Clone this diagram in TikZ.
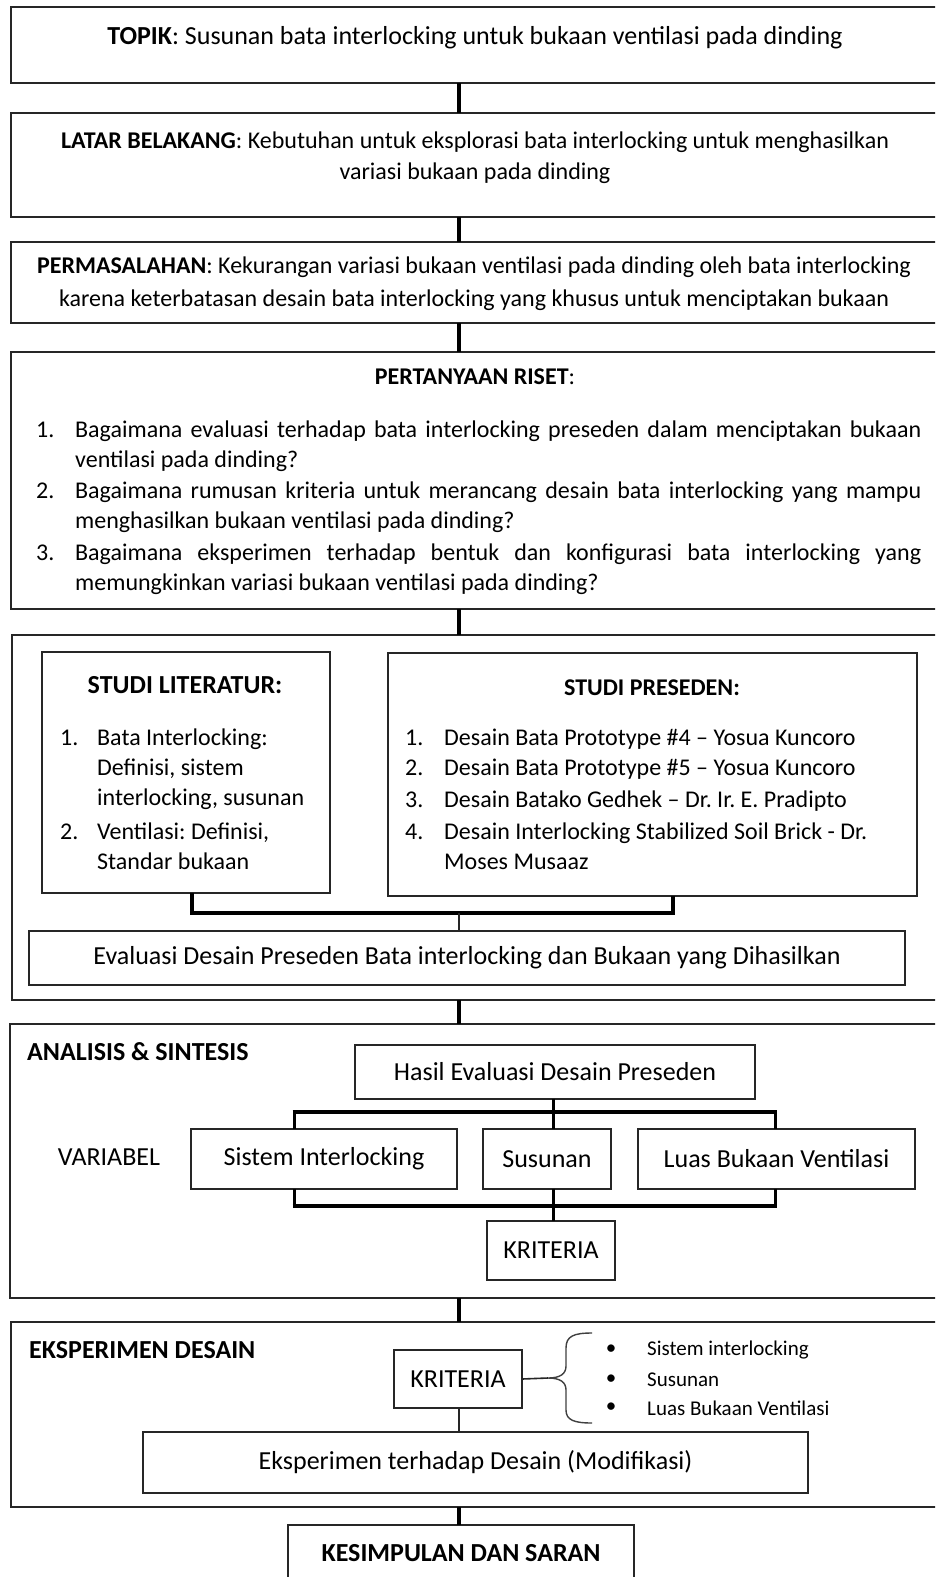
\documentclass[tikz,border=0pt]{standalone}
\usepackage{fontspec}
\setmainfont{Carlito}
\hyphenpenalty=10000 \exhyphenpenalty=10000 \tolerance=9999 \emergencystretch=20pt
\frenchspacing
\newcommand\fsz[2]{\fontsize{#1}{#2}\selectfont}
\begin{document}
\begin{tikzpicture}[x=1pt,y=-1pt,
  mbox/.style={draw=black!85, line width=1.6pt, anchor=north west, inner sep=0pt, outer sep=0pt},
  ibox/.style={draw=black!85, line width=1.6pt, anchor=north west, inner sep=0pt, outer sep=0pt, font=\fsz{26}{31}},
  tx/.style={inner sep=0pt, font=\fsz{26}{31}},
  tx24/.style={inner sep=0pt, font=\fsz{24}{30}},
  conn/.style={line width=4.5pt, black},
  bar/.style={line width=4pt, black},
  vbar/.style={line width=3pt, black},
  tline/.style={line width=2.2pt, black!85},
  brc/.style={line width=1.4pt, black!75}]
\useasboundingbox (0,0) rectangle (935,1577);
\fill[white] (0,0) rectangle (935,1577);
\clip (0,0) rectangle (935,1577);
\coordinate (cx) at (459,0);

% main boxes
\node[mbox, minimum width=928pt, minimum height=76pt] (topik) at (11,7) {};
\node[mbox, minimum width=928pt, minimum height=104pt] (latar) at (11,113) {};
\node[mbox, minimum width=928pt, minimum height=81pt] (permas) at (11,242) {};
\node[mbox, minimum width=928pt, minimum height=257pt] (pert) at (11,352) {};
\node[mbox, minimum width=927pt, minimum height=365pt] (studi) at (12,635) {};
\node[mbox, minimum width=929pt, minimum height=274pt] (anal) at (10,1024) {};
\node[mbox, minimum width=928pt, minimum height=185pt] (eks) at (11,1322) {};
\node[ibox, minimum width=346pt, minimum height=56pt] (kes) at (288,1525) {\textbf{KESIMPULAN DAN SARAN}};

% texts of main boxes
\node[tx] (topikT) at (475,38) {\textbf{TOPIK}: Susunan bata interlocking untuk bukaan ventilasi pada dinding};
\node[tx24, font=\fsz{24}{31}, align=center] (latarT) at (475,157.5) {\textbf{LATAR BELAKANG}: Kebutuhan untuk eksplorasi bata interlocking untuk menghasilkan\\variasi bukaan pada dinding};
\node[tx24, font=\fsz{24}{33}, align=center] (permasT) at (474,283.5) {\textbf{PERMASALAHAN}: Kekurangan variasi bukaan ventilasi pada dinding oleh bata interlocking\\karena keterbatasan desain bata interlocking yang khusus untuk menciptakan bukaan};
\node[tx24] (pertT) at (475,377) {\textbf{PERTANYAAN RISET}:};
\node[tx24, anchor=north west] (qlist) at (36,416) {\begin{tabular}{@{}p{39pt}@{}p{846pt}@{}}
1. & Bagaimana evaluasi terhadap bata interlocking preseden dalam menciptakan bukaan\linebreak ventilasi pada dinding?\\[1.5pt]
2. & Bagaimana rumusan kriteria untuk merancang desain bata interlocking yang mampu\linebreak menghasilkan bukaan ventilasi pada dinding?\\[1.5pt]
3. & Bagaimana eksperimen terhadap bentuk dan konfigurasi bata interlocking yang\linebreak memungkinkan variasi bukaan ventilasi pada dinding?
\end{tabular}};

% studi
\node[mbox, minimum width=288pt, minimum height=241pt] (lit) at (42,652) {};
\node[mbox, minimum width=529pt, minimum height=243pt] (pres) at (388,653) {};
\node[tx] (litT) at (185,685) {\textbf{STUDI LITERATUR:}};
\node[tx24] (presT) at (652,688) {\textbf{STUDI PRESEDEN:}};
\node[tx24, anchor=north west] (litL) at (60,724) {\begin{tabular}{@{}p{37pt}@{}l@{}}
1. & Bata Interlocking:\\ & Definisi, sistem\\ & interlocking, susunan\\[4pt]
2. & Ventilasi: Definisi,\\ & Standar bukaan
\end{tabular}};
\node[tx24, anchor=north west] (presL) at (405,724) {\begin{tabular}{@{}p{39pt}@{}l@{}}
1. & Desain Bata Prototype \#4 – Yosua Kuncoro\\
2. & Desain Bata Prototype \#5 – Yosua Kuncoro\\[2pt]
3. & Desain Batako Gedhek – Dr. Ir. E. Pradipto\\[2pt]
4. & Desain Interlocking Stabilized Soil Brick - Dr.\\
 & Moses Musaaz
\end{tabular}};
\node[ibox, minimum width=876pt, minimum height=54pt] (eval) at (29,931) {Evaluasi Desain Preseden Bata interlocking dan Bukaan yang Dihasilkan};
\coordinate (brY) at (0,913);
\draw[bar] ([xshift=6pt]lit.south) -- ([xshift=6pt]lit.south |- brY) -- ([xshift=20pt]pres.south |- brY) -- ([xshift=20pt]pres.south);
\draw[tline] (brY -| cx) -- (eval.north -| cx);

% analisis
\node[tx, anchor=west] (analT) at (27,1052) {\textbf{ANALISIS \& SINTESIS}};
\node[ibox, minimum width=400pt, minimum height=54pt] (hasil) at (355,1045) {Hasil Evaluasi Desain Preseden};
\node[ibox, minimum width=266pt, minimum height=60pt] (sist) at (191,1129) {Sistem Interlocking};
\node[ibox, minimum width=128pt, minimum height=60pt] (susun) at (483,1129) {Susunan};
\node[ibox, minimum width=277pt, minimum height=60pt] (luas) at (638,1129) {Luas Bukaan Ventilasi};
\node[ibox, minimum width=128pt, minimum height=59pt] (krit1) at (487,1221) {KRITERIA};
\node[tx] (varT) at (109,1157) {VARIABEL};
\coordinate (barTop) at (0,1112);
\coordinate (barBot) at (0,1206);
\coordinate (axL) at (294,0);
\coordinate (axM) at (553,0);
\coordinate (axR) at (775,0);
\draw[vbar] (hasil.south -| axM) -- (susun.north -| axM);
\draw[vbar] (axL |- barTop) -- (sist.north -| axL);
\draw[vbar] (axR |- barTop) -- (luas.north -| axR);
\draw[bar] ([xshift=-1.5pt]axL |- barTop) -- ([xshift=1.5pt]axR |- barTop);
\draw[vbar] (sist.south -| axL) -- (axL |- barBot);
\draw[vbar] (luas.south -| axR) -- (axR |- barBot);
\draw[bar] ([xshift=-1.5pt]axL |- barBot) -- ([xshift=1.5pt]axR |- barBot);
\draw[vbar] (susun.south -| axM) -- (krit1.north -| axM);

% eksperimen
\node[tx, anchor=west] (eksT) at (29,1350) {\textbf{EKSPERIMEN DESAIN}};
\node[ibox, minimum width=128pt, minimum height=58pt] (krit2) at (394,1350) {KRITERIA};
\node[ibox, minimum width=665pt, minimum height=61pt] (eksmod) at (143,1432) {Eksperimen terhadap Desain (Modifikasi)};
\draw[tline] (krit2.south -| cx) -- (eksmod.north -| cx);
\coordinate (braceTip) at (548,1378);
\draw[tline, line width=1.6pt] (krit2.east) -- (braceTip);
\draw[brc] (592,1333) .. controls (574,1333) and (566,1336) .. (566,1348) -- (566,1366) .. controls (566,1374) and (560,1378) .. (braceTip) .. controls (560,1378) and (566,1382) .. (566,1390) -- (566,1410) .. controls (566,1420) and (574,1423) .. (592,1423);
\node[inner sep=0pt, font=\fsz{21}{25}] (b1) at (611,1350) {•};
\node[inner sep=0pt, font=\fsz{21}{25}] (b2) at (611,1380) {•};
\node[inner sep=0pt, font=\fsz{21}{25}] (b3) at (611,1408) {•};
\node[inner sep=0pt, font=\fsz{21}{25}, anchor=west] (k1) at (647,1350) {Sistem interlocking};
\node[inner sep=0pt, font=\fsz{21}{25}, anchor=west] (k2) at (647,1380) {Susunan};
\node[inner sep=0pt, font=\fsz{21}{25}, anchor=west] (k3) at (647,1408) {Luas Bukaan Ventilasi};

% main connectors
\draw[conn] (topik.south -| cx) -- (latar.north -| cx);
\draw[conn] (latar.south -| cx) -- (permas.north -| cx);
\draw[conn] (permas.south -| cx) -- (pert.north -| cx);
\draw[conn] (pert.south -| cx) -- (studi.north -| cx);
\draw[conn] (studi.south -| cx) -- (anal.north -| cx);
\draw[conn] (anal.south -| cx) -- (eks.north -| cx);
\draw[conn] (eks.south -| cx) -- (kes.north -| cx);
\end{tikzpicture}
\end{document}
